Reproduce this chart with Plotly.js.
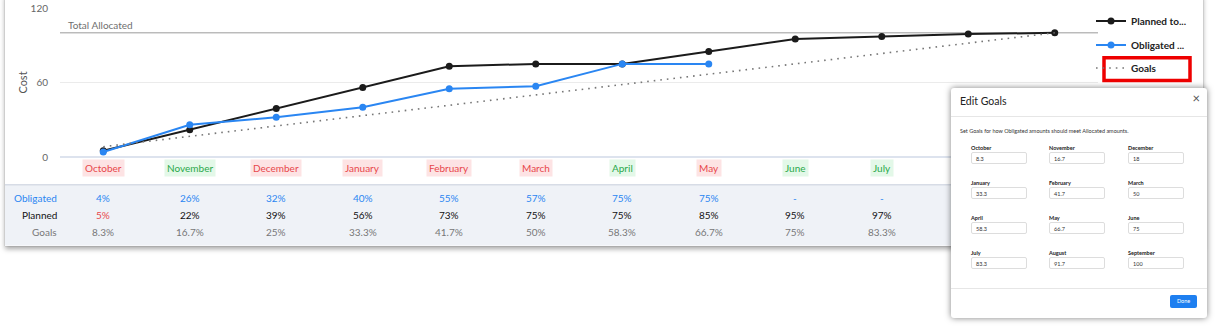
<!DOCTYPE html>
<html>
<head>
<meta charset="utf-8">
<script src="https://cdn.plot.ly/plotly-3.0.1.min.js"></script>
<style>
  html, body { margin:0; padding:0; background:#fff; width:1218px; height:328px; overflow:hidden; font-family: Lato, "Open Sans", sans-serif; }
  #card { position:absolute; left:5px; top:-6px; width:1198px; height:252px; background:#fff; box-shadow: 0 3px 5px rgba(0,0,0,0.35), 0 0 1px rgba(0,0,0,0.3); }
  #chart { position:absolute; left:0; top:0; width:1218px; height:328px; }
  #modal { position:absolute; left:951px; top:88px; width:256px; height:230px; background:#fff; border-radius:3px; box-shadow: 0 0 6px rgba(0,0,0,0.5); font-family: Lato, sans-serif; }
  #modal .hdr { position:absolute; left:0; top:0; width:256px; height:28px; border-bottom:1px solid #e6e6e6; }
  #modal .hdr .t { position:absolute; left:9px; top:7px; font-size:10.5px; color:#222; }
  #modal .hdr .x { position:absolute; right:7px; top:2px; font-size:13px; color:#555; }
  #modal .desc { position:absolute; left:9px; top:40px; font-size:5.5px; color:#333; white-space:nowrap; }
  #modal .lbl { position:absolute; font-size:5.5px; font-weight:bold; color:#222; }
  #modal .inp { position:absolute; width:56px; height:12px; border:1px solid #ddd; border-radius:2px; font-size:5.5px; color:#333; box-sizing:border-box; padding:3px 0 0 4px; }
  #modal .ftr { position:absolute; left:0; top:200px; width:256px; border-top:1px solid #e6e6e6; }
  #modal .done { position:absolute; left:219px; top:207px; width:27px; height:13px; background:#1e7ff0; border-radius:2px; color:#fff; font-size:5.5px; text-align:center; line-height:13px; }
</style>
</head>
<body>
<div id="card"></div>
<div id="chart"></div>
<div id="modal"></div>
<script>
// ---- data ----
const months = ['October','November','December','January','February','March','April','May','June','July','August','September'];
const planned = [5, 22, 39, 56, 73, 75, 75, 85, 95, 97, 99, 100];
const obligatedMonths = ['October','November','December','January','February','March','April','May'];
const obligated = [4, 26, 32, 40, 55, 57, 75, 75];
const goals = [8.3, 16.7, 25, 33.3, 41.7, 50, 58.3, 66.7, 75, 83.3, 91.7, 100];
const totalAllocated = 100;
const yTicks = [0, 60, 120];

// visible table (columns hidden by the dialog are not shown)
const tableMonths = ['October','November','December','January','February','March','April','May','June','July'];
const monthStatus = ['behind','ahead','behind','behind','behind','behind','ahead','behind','ahead','ahead'];
const tableObligated = ['4%','26%','32%','40%','55%','57%','75%','75%','-','-'];
const tablePlanned = ['5%','22%','39%','56%','73%','75%','75%','85%','95%','97%'];
const plannedBehind = [true,false,false,false,false,false,false,false,false,false];
const tableGoals = ['8.3%','16.7%','25%','33.3%','41.7%','50%','58.3%','66.7%','75%','83.3%'];
const rowLabels = ['Obligated','Planned','Goals'];

// dialog
const dialogTitle = 'Edit Goals';
const dialogText = 'Set Goals for how Obligated amounts should meet Allocated amounts.';
const dialogMonths = ['October','November','December','January','February','March','April','May','June','July','August','September'];
const dialogValues = ['8.3','16.7','18','33.3','41.7','50','58.3','66.7','75','83.3','91.7','100'];

// ---- layout helpers ----
const W = 1218, H = 328;
const M = {l:60, r:120, t:7, b:171};
const PW = W - M.l - M.r, PH = H - M.t - M.b;
const px = x => (x - M.l) / PW;
const py = y => 1 - (y - M.t) / PH;

const C = { black:'#1b1b1b', blue:'#2a86f2', goal:'#777777', red:'#e8474b', green:'#2aa84a' };

const traces = [
  { x: months, y: planned, name: 'Planned to...', type:'scatter', mode:'lines+markers',
    line:{color:C.black, width:2}, marker:{color:C.black, size:7}, legend:'legend', hoverinfo:'skip' },
  { x: obligatedMonths, y: obligated, name: 'Obligated ...', type:'scatter', mode:'lines+markers',
    line:{color:C.blue, width:2}, marker:{color:C.blue, size:7}, legend:'legend2', hoverinfo:'skip' },
  { x: months, y: goals, name: 'Goals', type:'scatter', mode:'lines',
    line:{color:C.goal, width:1.6, dash:'1.6px,5px'}, legend:'legend3', hoverinfo:'skip' }
];

const shapes = [
  // table background
  { type:'rect', xref:'paper', yref:'paper', x0:px(5), x1:px(1203), y0:py(246), y1:py(185),
    fillcolor:'#eff2f7', line:{width:0}, layer:'below' },
  { type:'line', xref:'paper', yref:'paper', x0:px(5), x1:px(1203), y0:py(185), y1:py(185),
    line:{color:'#d7dce6', width:1.5}, layer:'below' },
  // total allocated
  { type:'line', xref:'paper', yref:'y', x0:0, x1:1, y0:totalAllocated, y1:totalAllocated,
    line:{color:'#9a9a9a', width:1}, layer:'below' },
  // red highlight box around Goals legend item
  { type:'rect', xref:'paper', yref:'paper', x0:px(1104), x1:px(1190), y0:py(80), y1:py(57),
    line:{color:'#ee0000', width:3.5}, fillcolor:'rgba(0,0,0,0)', layer:'above' }
];

const ann = [];
ann.push({ xref:'paper', yref:'y', x:px(66), y:totalAllocated, xanchor:'left', yanchor:'bottom', yshift:0,
  text:'Total Allocated', showarrow:false, font:{size:10, color:'#6f6f6f'} });

tableMonths.forEach((m, i) => {
  const ahead = monthStatus[i] === 'ahead';
  ann.push({ xref:'x', yref:'paper', x:m, y:py(168), yanchor:'middle', text:m, showarrow:false,
    font:{size:10, color: ahead ? C.green : C.red}, bgcolor: ahead ? '#e3f8e8' : '#fde3e4', borderpad:2 });
  ann.push({ xref:'x', yref:'paper', x:m, y:py(198), yanchor:'middle', text:tableObligated[i], showarrow:false,
    font:{size:10, color:C.blue} });
  ann.push({ xref:'x', yref:'paper', x:m, y:py(215), yanchor:'middle', text:tablePlanned[i], showarrow:false,
    font:{size:10, color: plannedBehind[i] ? C.red : '#111'} });
  ann.push({ xref:'x', yref:'paper', x:m, y:py(232), yanchor:'middle', text:tableGoals[i], showarrow:false,
    font:{size:10, color:'#777'} });
});
const rowColors = [C.blue, '#111', '#777'];
const rowY = [198, 215, 232];
rowLabels.forEach((r, i) => {
  ann.push({ xref:'paper', yref:'paper', x:px(59), y:py(rowY[i]), xanchor:'right', yanchor:'middle', text:r,
    showarrow:false, font:{size:10, color:rowColors[i]} });
});

const legFont = {size:10, color:'#222', family:'Lato, sans-serif', weight:'bold'};
const mkLeg = y => ({ x:px(1091), xanchor:'left', y:py(y), yanchor:'middle', bgcolor:'rgba(0,0,0,0)',
  font:legFont, borderwidth:0, itemclick:false, itemdoubleclick:false });

const layout = {
  width: W, height: H, margin: M,
  paper_bgcolor:'rgba(0,0,0,0)', plot_bgcolor:'rgba(0,0,0,0)',
  font:{family:'Lato, "Open Sans", sans-serif', color:'#555'},
  xaxis:{ type:'category', range:[-0.5, 11.5], showticklabels:false, showgrid:false, zeroline:false,
    showline:false, fixedrange:true },
  yaxis:{ range:[0, 120], tickvals:yTicks, ticktext:yTicks.map(String), showgrid:true, gridcolor:'#ebebeb',
    zeroline:true, zerolinecolor:'#dde3ee', zerolinewidth:2, showline:false, ticks:'',
    ticklabelstandoff:11, tickfont:{size:10, color:'#666'},
    title:{text:'Cost', font:{size:11, color:'#555'}, standoff:0}, fixedrange:true },
  showlegend:true,
  legend: mkLeg(21), legend2: mkLeg(45), legend3: mkLeg(68),
  shapes: shapes,
  annotations: ann
};

Plotly.newPlot('chart', traces, layout, {displayModeBar:false, staticPlot:true});

// ---- dialog ----
const modal = document.getElementById('modal');
let html = '<div class="hdr"><div class="t">' + dialogTitle + '</div><div class="x">&times;</div></div>';
html += '<div class="desc">' + dialogText + '</div>';
const colX = [20, 98, 177];
const rowTop = [57, 92, 127, 162];
dialogMonths.forEach((m, i) => {
  const c = i % 3, r = Math.floor(i / 3);
  html += '<div class="lbl" style="left:' + colX[c] + 'px;top:' + rowTop[r] + 'px">' + m + '</div>';
  html += '<div class="inp" style="left:' + colX[c] + 'px;top:' + (rowTop[r] + 7) + 'px">' + dialogValues[i] + '</div>';
});
html += '<div class="ftr"></div><div class="done">Done</div>';
modal.innerHTML = html;
</script>
</body>
</html>
